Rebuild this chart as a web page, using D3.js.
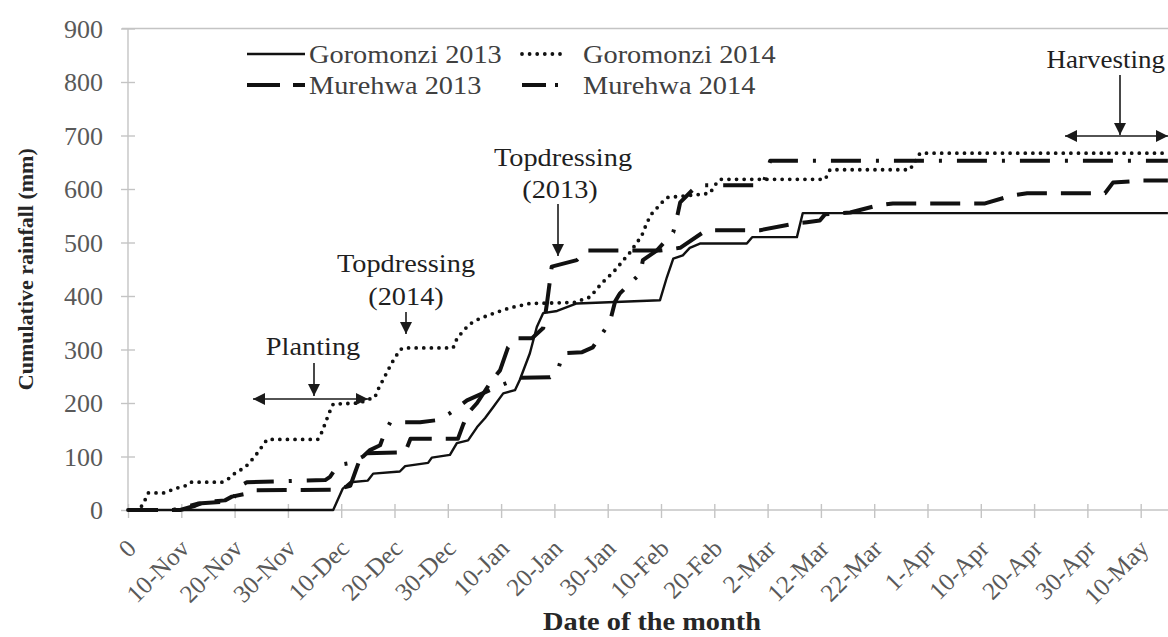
<!DOCTYPE html>
<html><head><meta charset="utf-8">
<script src="https://cdn.jsdelivr.net/npm/d3@7"></script>
<style>body{margin:0;background:#fff} svg{display:block}</style>
</head><body>
<svg id="c" width="1168" height="637"></svg>
<script>
// ---- data ----
const tickDays = [0,10,20,30,40,50,60,70,80,90,100,110,120,130,140,150,160,170,180,190];
const tickLabels = ["0","10-Nov","20-Nov","30-Nov","10-Dec","20-Dec","30-Dec","10-Jan","20-Jan","30-Jan","10-Feb","20-Feb","2-Mar","12-Mar","22-Mar","1-Apr","10-Apr","20-Apr","30-Apr","10-May"];
const yTicks = [0,100,200,300,400,500,600,700,800,900];
const seriesNames = ["Goromonzi 2013","Goromonzi 2014","Murehwa 2013","Murehwa 2014"];

// [day index, cumulative rainfall mm]
const goromonzi2013 = [[0,0],[38.5,0],[40.3,40],[41.7,52],[45.0,55],[46.0,68],[51.0,72],[52.0,82],[56.3,88],[57.0,98],[60.4,103],[61.7,125],[63.8,130],[65.5,155],[67.0,172],[68.5,192],[70.4,218],[72.6,224],[73.5,243],[75.4,293],[76.7,342],[77.9,368],[80.5,372],[84.2,386],[99.8,392],[101.1,435],[102.3,470],[104.1,476],[105.4,490],[107.3,498],[116.1,498],[117.1,510],[125.5,510],[126.6,555],[195.1,555]];
const goromonzi2014 = [[0,0],[1.9,0],[2.8,10],[3.8,32],[6.9,32],[8.8,40],[10.7,45],[11.6,52],[17.6,52],[18.8,58],[20.1,69],[22.0,80],[23.8,100],[25.1,118],[26.1,132],[35.6,132],[36.4,146],[37.1,165],[37.9,185],[38.5,198],[43.5,200],[44.8,206],[46.3,210],[46.9,225],[48.2,250],[49.5,275],[51.0,299],[51.6,303],[61.0,303],[61.7,320],[62.9,335],[64.2,348],[66.0,358],[67.9,365],[70.7,375],[72.6,380],[75.4,386],[83.9,388],[85.2,393],[86.7,398],[88.2,416],[89.5,430],[90.8,442],[91.9,454],[92.9,467],[93.8,476],[94.7,489],[95.5,500],[96.4,513],[97.4,538],[98.3,554],[99.2,564],[100.2,575],[101.1,584],[105.4,588],[109.2,592],[110.1,607],[111.1,618],[130.8,618],[131.7,636],[146.7,636],[148.6,667],[195.1,667]];
const murehwa2013 = [[0,0],[9.8,0],[12.6,8],[14.4,15],[18.2,18],[19.5,25],[22.0,30],[23.8,37],[38.8,38],[41.7,45],[42.6,70],[43.5,95],[44.5,106],[52.0,108],[53.0,133],[61.9,133],[62.9,160],[63.8,181],[65.5,200],[68.3,243],[69.8,261],[71.3,304],[73.0,321],[75.8,321],[77.9,340],[78.6,386],[79.5,455],[84.2,467],[86.1,485],[99.8,485],[103.6,490],[107.9,519],[109.2,523],[118.6,523],[124.8,535],[127.4,538],[129.8,541],[130.8,553],[135.5,556],[140.5,569],[143.5,573],[160.8,573],[165.9,588],[168.7,592],[183.3,592],[184.8,612],[190.4,616],[195.1,616]];
const murehwa2014 = [[0,0],[8.4,0],[10.5,5],[13.1,12],[17.3,15],[19.7,20],[21.0,45],[22.3,52],[37.0,56],[37.9,62],[39.4,84],[41.7,88],[44.1,100],[45.4,112],[47.3,121],[48.0,140],[49.2,164],[54.8,164],[58.0,168],[60.4,181],[63.6,205],[69.2,230],[73.5,247],[79.2,248],[80.5,256],[81.6,293],[85.2,295],[87.2,304],[90.4,351],[91.4,390],[92.3,405],[96.1,442],[96.6,467],[99.2,485],[102.3,519],[103.0,547],[103.6,575],[106.8,607],[119.1,607],[120.5,653],[195.1,653]];

const styles = [
  {w:2.4, dash:null, cap:"butt", legendDash:null},
  {w:3.8, dash:"0 7.6", cap:"round", legendDash:"0 7.6"},
  {w:4, dash:"30 14", cap:"butt", legendDash:"33 13 12 40"},
  {w:4, dash:"30 15 3 15", cap:"butt", legendDash:"24 9 3 100"}
];
const allSeries = [goromonzi2013, goromonzi2014, murehwa2013, murehwa2014];

// ---- drawing ----
const svg = d3.select("#c");
const serif = "'Liberation Serif','Times New Roman',serif";
const x = d3.scaleLinear().domain([0,190]).range([128,1140.7]);
const y = d3.scaleLinear().domain([0,900]).range([510,28.5]);
const SX = 1.09; // horizontal stretch of the original's text

const defs = svg.append("defs");
defs.append("marker").attr("id","arr").attr("viewBox","0 0 12 12")
  .attr("refX",12).attr("refY",6).attr("markerWidth",13).attr("markerHeight",12)
  .attr("markerUnits","userSpaceOnUse").attr("orient","auto-start-reverse")
  .append("path").attr("d","M0,0 L12,6 L0,12 Z").attr("fill","#1a1a1a");

// top border line (900)
svg.append("line").attr("x1",122).attr("x2",1168).attr("y1",y(900)).attr("y2",y(900))
  .attr("stroke","#c4c4c4").attr("stroke-width",1.6);

// y axis
const gy = svg.append("g").attr("transform","translate(128,0)")
  .call(d3.axisLeft(y).tickValues(yTicks).tickSize(7).tickFormat(d3.format("d")));
gy.select(".domain").attr("stroke","#c4c4c4").attr("stroke-width",1.4).attr("d",`M0,${y(0)}V${y(900)}`);
gy.selectAll(".tick line").attr("x1",7).attr("x2",-7).attr("stroke","#c4c4c4").attr("stroke-width",1.4);
gy.selectAll(".tick text").attr("x",-25).attr("dy","0.34em")
  .attr("font-family",serif).attr("font-size",26).attr("fill","#595959");

// x axis
const gx = svg.append("g").attr("transform",`translate(0,${y(0)})`)
  .call(d3.axisBottom(x).tickValues(tickDays).tickSize(8).tickFormat((d,i)=>tickLabels[i]));
gx.select(".domain").attr("stroke","#c4c4c4").attr("stroke-width",1.4).attr("d",`M128,0H1168`);
gx.selectAll(".tick line").attr("y1",-6).attr("y2",8).attr("stroke","#c4c4c4").attr("stroke-width",1.4);
gx.selectAll(".tick text").attr("x",0).attr("y",0).attr("dy",0)
  .attr("text-anchor","end").attr("transform","translate(9,40) rotate(-45)")
  .attr("font-family",serif).attr("font-size",25).attr("fill","#595959");
svg.selectAll(".domain").attr("fill","none");

// series lines
const line = d3.line().x(d=>x(d[0])).y(d=>y(d[1]));
allSeries.forEach((s,i)=>{
  svg.append("path").datum(s).attr("d",line).attr("fill","none")
    .attr("stroke","#111").attr("stroke-width",styles[i].w)
    .attr("stroke-dasharray",styles[i].dash).attr("stroke-linecap",styles[i].cap)
    .attr("stroke-linejoin","round");
});

// stretched text helper
function stext(t,xx,yy,opt){
  opt = opt||{};
  return svg.append("text").attr("transform",`translate(${xx},${yy}) scale(${opt.sx||SX},1)`)
    .attr("text-anchor",opt.anchor||"middle").attr("dy",opt.dy||0)
    .attr("font-family",serif).attr("font-size",opt.size||26)
    .attr("font-weight",opt.weight||"normal").attr("fill",opt.fill||"#1f1f1f").text(t);
}

// legend
const legPos = [[247,54],[522,54],[247,85],[522,85]];
const legLen = [58,45,58,45];
seriesNames.forEach((n,i)=>{
  const [lx,ly] = legPos[i];
  svg.append("line").attr("x1",lx).attr("x2",lx+legLen[i]).attr("y1",ly).attr("y2",ly)
    .attr("stroke","#111").attr("stroke-width",styles[i].w)
    .attr("stroke-dasharray",styles[i].legendDash).attr("stroke-linecap",styles[i].cap);
  stext(n, i%2===0 ? 309 : 583, ly, {anchor:"start", dy:"0.34em", fill:"#404040"});
});

// axis titles
svg.append("text").attr("transform",`translate(33,${(y(0)+y(900))/2}) rotate(-90)`)
  .attr("text-anchor","middle").attr("font-family",serif).attr("font-weight","bold")
  .attr("font-size",22).attr("fill","#262626").text("Cumulative rainfall (mm)");
stext("Date of the month",652,630,{weight:"bold",fill:"#262626"});

// annotations
function arrow(x1,y1,x2,y2,both){
  const l = svg.append("line").attr("x1",x1).attr("y1",y1).attr("x2",x2).attr("y2",y2)
    .attr("stroke","#1a1a1a").attr("stroke-width",1.6).attr("marker-end","url(#arr)");
  if(both) l.attr("marker-start","url(#arr)");
}
stext("Planting",313,355);
arrow(314,363,314,396);
arrow(253,399,368,399,true);

stext("Topdressing",406,272);
stext("(2014)",406,305);
arrow(406,312,406,334);

stext("Topdressing",563,166);
stext("(2013)",560,198);
arrow(558,204,558,256);

stext("Harvesting",1165,68,{anchor:"end", sx:1.04});
arrow(1120,75,1120,135);
arrow(1065,136,1168,136,true);
</script>
</body></html>
